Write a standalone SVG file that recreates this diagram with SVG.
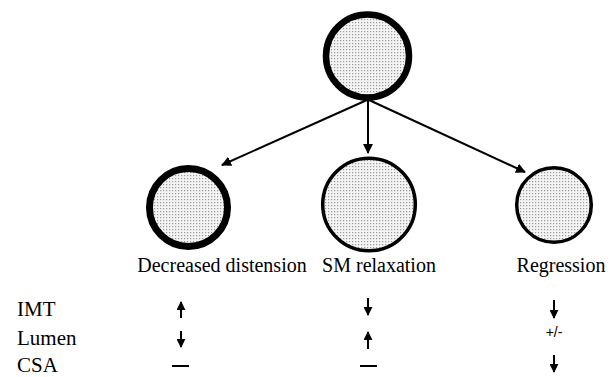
<svg xmlns="http://www.w3.org/2000/svg" width="614" height="377" viewBox="0 0 614 377">
<style>
.lbl{font-family:"Liberation Serif","Times New Roman",serif;font-size:20px;fill:#000}
.row{font-family:"Liberation Serif","Times New Roman",serif;font-size:21px;fill:#000}
.small{font-family:"Liberation Sans",Arial,sans-serif;font-size:14px;fill:#000}
.con{stroke:#000;stroke-width:2;fill:none}
.sym{stroke:#000;stroke-width:2;fill:none}
</style>
<defs>
<pattern id="dots" width="3" height="3" patternUnits="userSpaceOnUse">
<rect width="3" height="3" fill="#f4f4f4"/>
<rect x="1" y="1" width="1.2" height="1.2" fill="#999"/>
</pattern>
<marker id="ah" viewBox="0 0 10 10" refX="9" refY="5" markerWidth="5" markerHeight="5" orient="auto" markerUnits="strokeWidth">
<path d="M0,0 L10,5 L0,10 z" fill="#000"/>
</marker>
<marker id="sh" viewBox="0 0 10 10" refX="9" refY="5" markerWidth="4.5" markerHeight="4.5" orient="auto" markerUnits="strokeWidth">
<path d="M0,0 L10,5 L0,10 z" fill="#000"/>
</marker>
</defs>
<rect width="614" height="377" fill="#fff"/>
<g id="connectors">
<line class="con" x1="367" y1="100" x2="222" y2="165" marker-end="url(#ah)"/>
<line class="con" x1="368" y1="100" x2="368" y2="153" marker-end="url(#ah)"/>
<line class="con" x1="369" y1="100" x2="525" y2="172" marker-end="url(#ah)"/>
</g>
<g id="node-top">
<circle cx="367.5" cy="56" r="41.5" fill="url(#dots)" stroke="#000" stroke-width="6.5"/>
</g>
<g id="node-decreased">
<circle cx="188.5" cy="207.5" r="39" fill="url(#dots)" stroke="#000" stroke-width="7"/>
<text class="lbl" x="222" y="272" text-anchor="middle">Decreased distension</text>
</g>
<g id="node-sm">
<circle cx="369" cy="204.5" r="46.3" fill="url(#dots)" stroke="#000" stroke-width="3.5"/>
<text class="lbl" x="379" y="272" text-anchor="middle">SM relaxation</text>
</g>
<g id="node-regression">
<circle cx="554" cy="205" r="37.3" fill="url(#dots)" stroke="#000" stroke-width="3.5"/>
<text class="lbl" x="561" y="272" text-anchor="middle">Regression</text>
</g>
<g id="table">
<text class="row" x="17" y="316">IMT</text>
<text class="row" x="17" y="345">Lumen</text>
<text class="row" x="17" y="372">CSA</text>
<line class="sym" x1="181" y1="318" x2="181" y2="302" marker-end="url(#sh)"/>
<line class="sym" x1="181" y1="331" x2="181" y2="347" marker-end="url(#sh)"/>
<line class="sym" x1="172" y1="366" x2="189" y2="366"/>
<line class="sym" x1="368" y1="298" x2="368" y2="315" marker-end="url(#sh)"/>
<line class="sym" x1="368" y1="349" x2="368" y2="332" marker-end="url(#sh)"/>
<line class="sym" x1="360" y1="366" x2="377" y2="366"/>
<line class="sym" x1="554" y1="300" x2="554" y2="318" marker-end="url(#sh)"/>
<text class="small" x="554" y="337" text-anchor="middle">+/-</text>
<line class="sym" x1="554" y1="355" x2="554" y2="372" marker-end="url(#sh)"/>
</g>
</svg>
